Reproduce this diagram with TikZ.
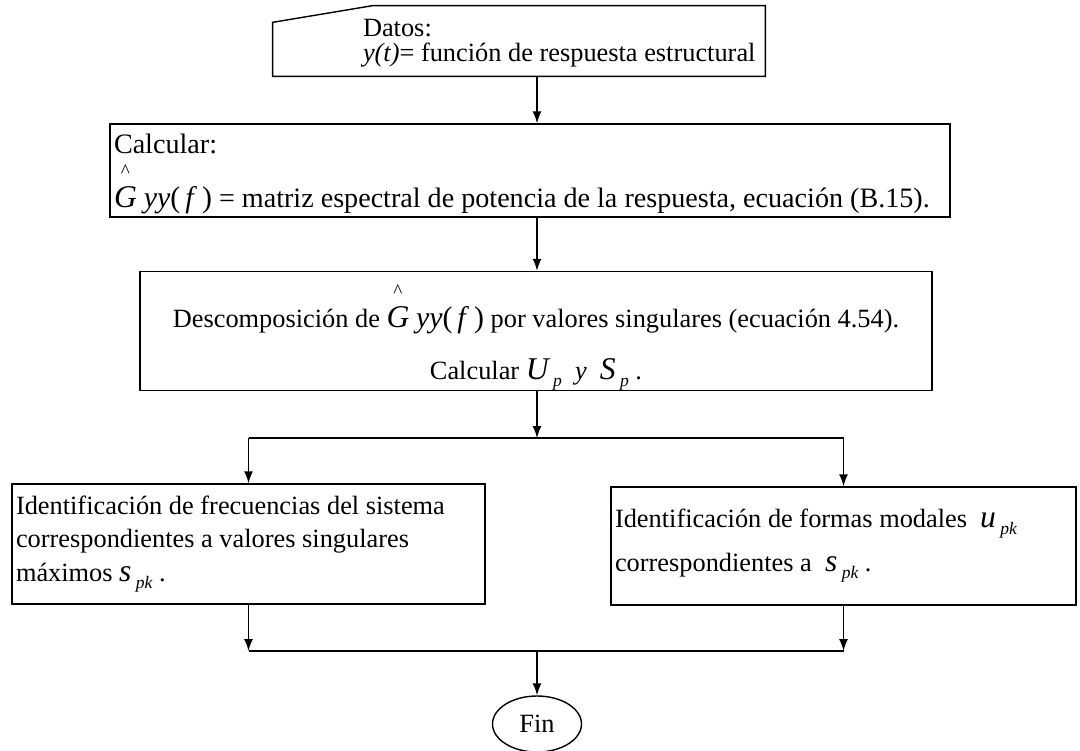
\documentclass[tikz,border=0pt]{standalone}
\usepackage{fontspec}
\setmainfont{Liberation Serif}
\usetikzlibrary{shapes.geometric,positioning,calc,arrows.meta}

% pieces of the formulas
\newcommand{\bigit}[1]{{\fontsize{18}{18}\selectfont\itshape #1}}
\newcommand{\subit}[1]{\raisebox{-4pt}{\fontsize{10}{10}\selectfont\itshape #1}}
\newcommand{\hatG}{\ooalign{\bigit{G}\cr\hidewidth\raisebox{17pt}[0pt][0pt]{\fontsize{11}{11}\selectfont\textasciicircum}\hidewidth\cr}}
\newcommand{\Gyy}{\hatG\ {\fontsize{17}{17}\selectfont\textit{yy}(\,\textit{f}\,)}}

\begin{document}
\begin{tikzpicture}[font=\fontsize{15}{17}\selectfont,
    flow box/.style={draw, rectangle, line width=0.8pt, inner xsep=0.08cm, inner ysep=0pt},
    end oval/.style={draw, ellipse, line width=0.8pt, minimum width=1.78cm, minimum height=1.12cm, inner sep=0pt},
    flow line/.style={line width=0.8pt},
    flow arrow/.style={flow line, -{Latex[length=2.4mm,width=1.8mm]}}]
    \useasboundingbox (0,0) rectangle (21.6,-15.02);

    % Input data (manual input shape)
    \node[minimum width=9.84cm, minimum height=1.4cm, text width=9.74cm, inner xsep=0.05cm, inner ysep=0pt, align=flush left, font=\fontsize{15}{14.2}\selectfont] (datos) at (10.38,-0.82)
        {\rule{0pt}{12.7pt}\hspace*{1.75cm}Datos:\\ \mbox{\hspace*{1.75cm}\textit{y(t)}= función de respuesta estructural}};
    \draw[flow line] (datos.south west) -- ++(0,1.08) -- ([xshift=2cm]datos.north west) -- (datos.north east) -- (datos.south east) -- cycle;

    % Spectral matrix
    \node[flow box, minimum width=16.8cm, minimum height=1.86cm, text width=16.64cm, align=flush left, font=\fontsize{16}{17}\selectfont] (calc) at (10.6,-3.41)
        {\rule{0pt}{15pt}Calcular:\\[13.7pt] \Gyy{} = matriz espectral de potencia de la respuesta, ecuación (B.15).};

    % Singular value decomposition
    \node[flow box, minimum width=15.84cm, minimum height=2.24cm, align=center] (svd) at (10.72,-6.62)
        {\rule{0pt}{32pt}Descomposición de \Gyy{} por valores singulares (ecuación 4.54).\\[12.6pt]
         Calcular \bigit{U}\,\subit{p}\ \ \textit{y}\ \ \bigit{S}\,\subit{p}\ .};

    \coordinate (split) at (10.74,-8.76);

    % Frequencies and mode shapes
    \node[flow box, minimum width=9.46cm, minimum height=2.4cm, text width=9.3cm, align=flush left, font=\fontsize{15}{19}\selectfont] (freq) at (4.97,-10.88)
        {Identificación de frecuencias del sistema\\ correspondientes a valores singulares\\ máximos \bigit{s}\,\subit{pk}\ .};
    \node[flow box, minimum width=9.3cm, minimum height=2.36cm, text width=9.14cm, align=flush left] (modal) at (16.87,-10.92)
        {Identificación de formas modales\ \ \bigit{u}\,\subit{pk}\\[8pt] correspondientes a\ \ \bigit{s}\,\subit{pk}\ .};

    \coordinate (merge) at (10.74,-13.02);
    \node[end oval] (fin) at (10.74,-14.48) {Fin};

    % Connections
    \draw[flow arrow] (datos.south -| fin) -- (calc.north -| fin);
    \draw[flow arrow] (calc.south -| fin) -- (svd.north -| fin);
    \draw[flow arrow] (svd.south -| fin) -- (split);
    \draw[flow line] (split -| freq.north) -- (split -| modal.north);
    \draw[flow arrow] (split -| freq.north) -- (freq.north);
    \draw[flow arrow] (split -| modal.north) -- (modal.north);
    \draw[flow arrow] (freq.south) -- (merge -| freq.south);
    \draw[flow arrow] (modal.south) -- (merge -| modal.south);
    \draw[flow line] (merge -| freq.south) -- (merge -| modal.south);
    \draw[flow arrow] (merge) -- (fin.north);

\end{tikzpicture}
\end{document}
